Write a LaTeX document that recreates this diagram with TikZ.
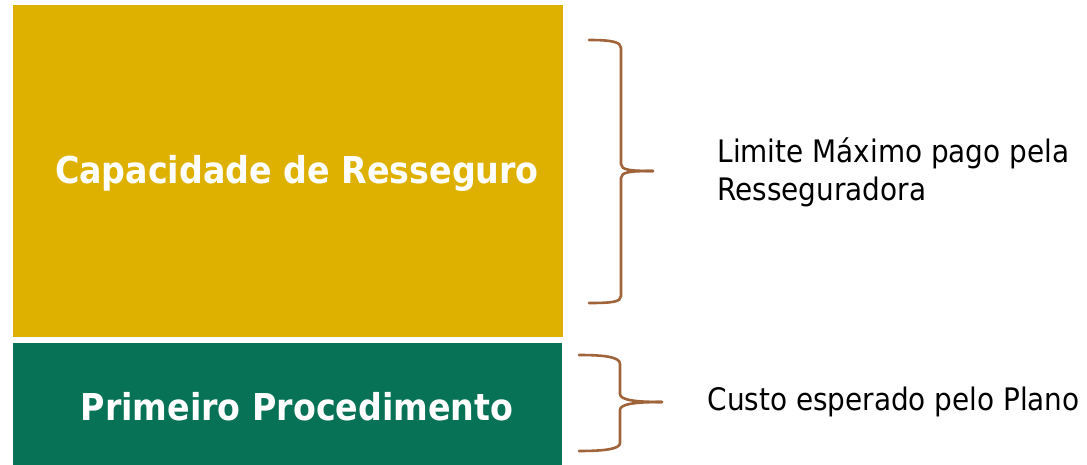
\documentclass[tikz,border=0pt]{standalone}
\usepackage{fontspec}
\setmainfont{DejaVu Sans Condensed}
\definecolor{boxyellow}{HTML}{DEB100}
\definecolor{boxgreen}{HTML}{077256}
\definecolor{bracebrown}{HTML}{A0643A}
\begin{document}
\begin{tikzpicture}[x=1pt,y=-1pt,
  boxtext/.style={text=white,font=\bfseries\fontsize{37}{40}\selectfont},
  sidetext/.style={text=black,font=\fontsize{31}{38}\selectfont,align=left,anchor=west},
  brace/.style={draw=bracebrown,line width=2.6pt,line cap=round}]
\useasboundingbox (0,0) rectangle (1087,465);
\fill[white] (0,0) rectangle (1087,465);
\fill[boxyellow] (13,5) rectangle (563,337);
\fill[boxgreen] (13,343) rectangle (562,465);
\node[boxtext] (cap) at (297,173) {Capacidade de Resseguro};
\node[boxtext] (prim) at (297,407) {Primeiro Procedimento};
\node[sidetext] (lim) at (714,172) {Limite Máximo pago pela\\Resseguradora};
\node[sidetext] (custo) at (704,402) {Custo esperado pelo Plano};
\draw[brace] (589,40) .. controls (612,40) and (621,42) .. (621,48) -- (621,164) .. controls (621,170) and (630,171) .. (653,171);
\draw[brace] (653,171) .. controls (630,171) and (621,172) .. (621,178) -- (621,296) .. controls (621,302) and (612,303) .. (589,303);
\draw[brace] (579,355) .. controls (605,355) and (620,357) .. (620,364) -- (620,394) .. controls (620,400) and (635,402) .. (662,402);
\draw[brace] (662,402) .. controls (635,402) and (620,404) .. (620,410) -- (620,443) .. controls (620,449) and (605,451) .. (579,451);
\end{tikzpicture}
\end{document}
